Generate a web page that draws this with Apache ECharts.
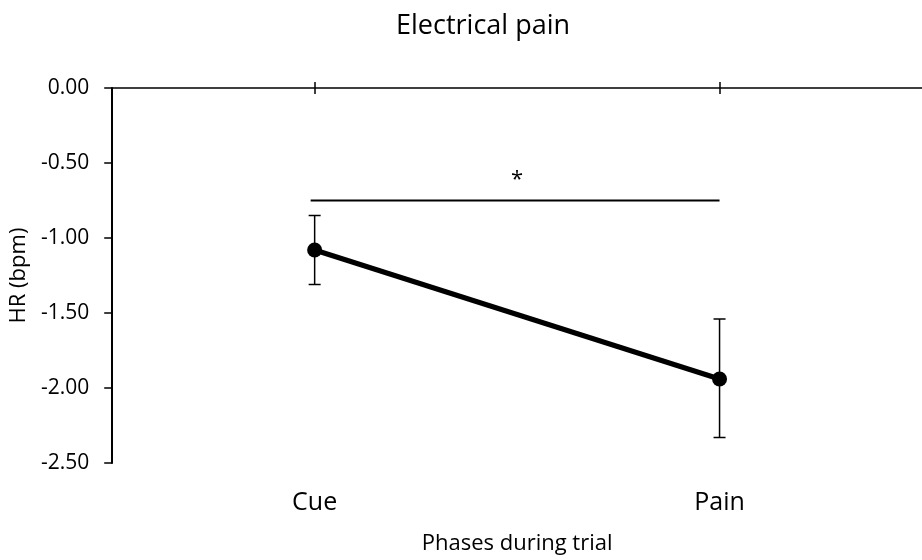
<!DOCTYPE html>
<html>
<head>
<meta charset="utf-8">
<title>Electrical pain</title>
<script src="https://cdn.jsdelivr.net/npm/echarts@6/dist/echarts.min.js"></script>
<style>
  html, body { margin: 0; padding: 0; background: #fff; }
  #main { width: 922px; height: 560px; }
</style>
</head>
<body>
<div id="main"></div>
<script>
// data
var categories = ['Cue', 'Pain'];
var hrMean = [-1.08, -1.94];
var hrUpper = [-0.85, -1.54];
var hrLower = [-1.31, -2.33];
var yTicks = [0, -0.5, -1, -1.5, -2, -2.5];
// significance bracket: from category, to category, level, mark
var sigFrom = ['Cue'];
var sigTo = ['Pain'];
var sigLevel = [-0.75];
var sigMark = ['*'];

var FONT = '"Open Sans", "Noto Sans", sans-serif';

var chart = echarts.init(document.getElementById('main'), null, { renderer: 'canvas' });

var errData = [];
for (var i = 0; i < categories.length; i++) {
  errData.push([i, hrUpper[i], hrLower[i]]);
}
var sigData = [];
for (var j = 0; j < sigLevel.length; j++) {
  sigData.push([categories.indexOf(sigFrom[j]), categories.indexOf(sigTo[j]), sigLevel[j], j]);
}

var option = {
  animation: false,
  backgroundColor: '#ffffff',
  title: {
    text: 'Electrical pain',
    left: 391,
    top: 8,
    textStyle: { fontFamily: FONT, fontSize: 27, fontWeight: 'normal', color: '#000' }
  },
  grid: { left: 109, top: 88, width: 822, bottom: 95, containLabel: false },
  xAxis: [
    {
      // top axis line with upward ticks
      type: 'category', data: categories, position: 'top',
      axisLine: { show: true, lineStyle: { color: '#000', width: 1.5 } },
      axisTick: { show: true, interval: 0, alignWithLabel: true, length: 6, lineStyle: { color: '#000', width: 1.5 } },
      axisLabel: { show: true, interval: 0, color: 'rgba(0,0,0,0)', fontSize: 1 },
      splitLine: { show: false }
    },
    {
      // same axis, downward half of the cross ticks
      type: 'category', data: categories, position: 'top',
      axisLine: { show: false },
      axisTick: { show: true, interval: 0, alignWithLabel: true, inside: true, length: 6, lineStyle: { color: '#000', width: 1.5 } },
      axisLabel: { show: true, interval: 0, color: 'rgba(0,0,0,0)', fontSize: 1 },
      splitLine: { show: false }
    },
    {
      // labels and name at the bottom
      type: 'category', data: categories, position: 'bottom',
      axisLine: { show: false, onZero: false },
      axisTick: { show: false },
      axisLabel: { margin: 27, interval: 0, fontFamily: FONT, fontSize: 25, color: '#000' },
      name: 'Phases during trial',
      nameLocation: 'middle',
      nameGap: 70,
      nameTextStyle: { fontFamily: FONT, fontSize: 22, color: '#000' },
      splitLine: { show: false }
    }
  ],
  yAxis: {
    type: 'value',
    min: yTicks[yTicks.length - 1],
    max: yTicks[0],
    interval: 0.5,
    name: 'HR (bpm)',
    nameLocation: 'middle',
    nameGap: 68,
    nameTextStyle: { fontFamily: FONT, fontSize: 22, color: '#000' },
    axisLine: { show: true, onZero: false, lineStyle: { color: '#000', width: 2 } },
    axisTick: { show: true, length: 8, lineStyle: { color: '#000', width: 1.5 } },
    axisLabel: {
      margin: 23, fontFamily: FONT, fontSize: 21, color: '#000',
      formatter: function (v) { return v.toFixed(2); }
    },
    splitLine: { show: false }
  },
  series: [
    {
      // significance bracket
      type: 'custom',
      xAxisIndex: 0,
      data: sigData,
      z: 3,
      renderItem: function (params, api) {
        var a = api.coord([api.value(0), api.value(2)]);
        var b = api.coord([api.value(1), api.value(2)]);
        return {
          type: 'group',
          children: [
            { type: 'line', shape: { x1: a[0] - 4, y1: a[1], x2: b[0], y2: b[1] },
              style: { stroke: '#000', lineWidth: 2 } },
            { type: 'text',
              style: { x: (a[0] + b[0]) / 2, y: a[1] - 10, text: sigMark[api.value(3)],
                       textAlign: 'center', textVerticalAlign: 'bottom',
                       font: '22px ' + FONT, fill: '#000' } }
          ]
        };
      }
    },
    {
      // error bars
      type: 'custom',
      xAxisIndex: 0,
      data: errData,
      z: 4,
      renderItem: function (params, api) {
        var top = api.coord([api.value(0), api.value(1)]);
        var bot = api.coord([api.value(0), api.value(2)]);
        var cap = 6;
        var st = { stroke: '#000', lineWidth: 1.5 };
        return {
          type: 'group',
          children: [
            { type: 'line', shape: { x1: top[0], y1: top[1], x2: bot[0], y2: bot[1] }, style: st },
            { type: 'line', shape: { x1: top[0] - cap, y1: top[1], x2: top[0] + cap, y2: top[1] }, style: st },
            { type: 'line', shape: { x1: bot[0] - cap, y1: bot[1], x2: bot[0] + cap, y2: bot[1] }, style: st }
          ]
        };
      }
    },
    {
      name: 'HR',
      type: 'line',
      xAxisIndex: 0,
      data: hrMean,
      z: 5,
      symbol: 'circle',
      symbolSize: 15,
      lineStyle: { color: '#000', width: 5 },
      itemStyle: { color: '#000' }
    }
  ]
};

chart.setOption(option);
</script>
</body>
</html>
